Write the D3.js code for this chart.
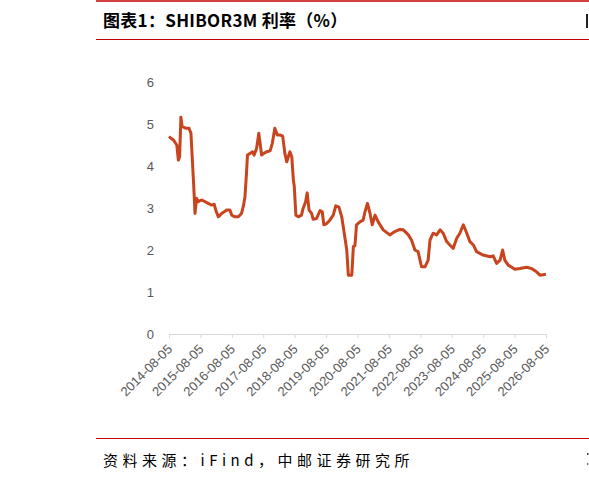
<!DOCTYPE html>
<html>
<head>
<meta charset="utf-8">
<script src="https://cdn.jsdelivr.net/npm/d3@7"></script>
<style>
  body { margin: 0; background: #fff; }
  svg { display: block; }
</style>
</head>
<body>
<div class="content"></div>
<script>

// dates as decimal years
var years = [2014.59, 2014.73, 2014.84, 2014.89, 2014.93, 2014.97, 2015.01, 2015.12, 2015.23, 2015.29,
    2015.33, 2015.38, 2015.42, 2015.47, 2015.52, 2015.63, 2015.74, 2015.84, 2015.95, 2016.03,
    2016.08, 2016.16, 2016.27, 2016.43, 2016.53, 2016.59, 2016.69, 2016.80, 2016.90, 2016.96,
    2017.01, 2017.06, 2017.09, 2017.17, 2017.25, 2017.30, 2017.38, 2017.45, 2017.54, 2017.61,
    2017.70, 2017.81, 2017.88, 2017.96, 2018.04, 2018.12, 2018.21, 2018.28, 2018.34, 2018.39,
    2018.44, 2018.50, 2018.55, 2018.58, 2018.63, 2018.71, 2018.81, 2018.86, 2018.94, 2018.99,
    2019.05, 2019.13, 2019.18, 2019.29, 2019.40, 2019.47, 2019.52, 2019.61, 2019.71, 2019.82,
    2019.90, 2020.00, 2020.09, 2020.17, 2020.25, 2020.30, 2020.41, 2020.46, 2020.51, 2020.56,
    2020.67, 2020.77, 2020.83, 2020.91, 2020.99, 2021.06, 2021.15, 2021.25, 2021.41, 2021.62,
    2021.78, 2021.94, 2022.05, 2022.21, 2022.31, 2022.42, 2022.52, 2022.63, 2022.74, 2022.84,
    2022.90, 2023.00, 2023.11, 2023.22, 2023.32, 2023.43, 2023.53, 2023.64, 2023.75, 2023.85,
    2023.96, 2024.07, 2024.17, 2024.28, 2024.38, 2024.59, 2024.81, 2024.91, 2025.02, 2025.13,
    2025.21, 2025.28, 2025.39, 2025.50, 2025.60, 2025.76, 2025.97, 2026.13, 2026.29, 2026.40,
    2026.59];

var rates = [4.70, 4.62, 4.50, 4.14, 4.22, 5.16, 4.94, 4.90, 4.90, 4.78,
    4.22, 3.51, 2.87, 3.23, 3.15, 3.19, 3.15, 3.11, 3.07, 3.09,
    2.95, 2.79, 2.87, 2.95, 2.95, 2.83, 2.79, 2.79, 2.87, 3.05,
    3.27, 3.85, 4.26, 4.30, 4.34, 4.26, 4.42, 4.78, 4.26, 4.30,
    4.34, 4.36, 4.54, 4.90, 4.74, 4.74, 4.71, 4.30, 4.10, 4.22,
    4.34, 4.22, 3.67, 3.51, 2.83, 2.79, 2.83, 2.99, 3.15, 3.36,
    2.95, 2.87, 2.73, 2.75, 2.94, 2.91, 2.60, 2.63, 2.71, 2.83,
    3.05, 3.02, 2.79, 2.40, 2.00, 1.40, 1.40, 2.08, 2.10, 2.60,
    2.67, 2.71, 2.91, 3.11, 2.87, 2.60, 2.83, 2.67, 2.48, 2.36,
    2.44, 2.49, 2.48, 2.36, 2.24, 2.00, 1.96, 1.60, 1.60, 1.76,
    2.24, 2.40, 2.36, 2.48, 2.40, 2.20, 2.12, 2.04, 2.28, 2.40,
    2.60, 2.40, 2.20, 2.12, 1.96, 1.88, 1.84, 1.86, 1.68, 1.76,
    2.00, 1.76, 1.64, 1.59, 1.54, 1.56, 1.59, 1.56, 1.48, 1.40,
    1.42];

var xLabels = ['2014-08-05', '2015-08-05', '2016-08-05', '2017-08-05', '2018-08-05', '2019-08-05',
    '2020-08-05', '2021-08-05', '2022-08-05', '2023-08-05', '2024-08-05', '2025-08-05', '2026-08-05'];
var yTicks = [0, 1, 2, 3, 4, 5, 6];

var title = '图表1：SHIBOR3M 利率（%）';
var source = '资料来源：iFind，中邮证券研究所';

var width = 589, height = 479;
var red = '#c00000';

// label date string -> decimal year
function toYear(s) {
    var p = s.split('-'), y = +p[0];
    var d = new Date(y, +p[1] - 1, +p[2]);
    var start = new Date(y, 0, 1), end = new Date(y + 1, 0, 1);
    return y + (d - start) / (end - start);
}

var data = years.map(function(y, i) { return { year: y, rate: rates[i] } });

var svg = d3.select('div.content').append('svg')
    .attr('width', width)
    .attr('height', height)

var x = d3.scaleLinear()
    .domain([toYear(xLabels[0]), toYear(xLabels[xLabels.length - 1])])
    .range([169, 546])

var y = d3.scaleLinear()
    .domain([0, 6])
    .range([334, 82])

// header / footer rules
svg.append('line').attr('x1', 96).attr('x2', width).attr('y1', 1).attr('y2', 1)
    .style('stroke', red).style('stroke-width', 1.5)
svg.append('line').attr('x1', 96).attr('x2', width).attr('y1', 39.5).attr('y2', 39.5)
    .style('stroke', red).style('stroke-width', 1.2)
svg.append('line').attr('x1', 96).attr('x2', width).attr('y1', 438.5).attr('y2', 438.5)
    .style('stroke', red).style('stroke-width', 1.2)

svg.append('text')
    .text(title)
    .attr('x', 103)
    .attr('y', 27)
    .style('font-family', '"Noto Sans CJK SC"')
    .style('font-weight', 'bold')
    .style('font-size', '17px')
    .style('letter-spacing', '0.3px')
    .style('fill', '#000')

// clipped edge of the next column's heading / source
svg.append('rect').attr('x', 586).attr('y', 14).attr('width', 2).attr('height', 14).style('fill', '#222')
svg.append('rect').attr('x', 587).attr('y', 453).attr('width', 1.5).attr('height', 2).style('fill', '#444')
svg.append('rect').attr('x', 587).attr('y', 463).attr('width', 1.5).attr('height', 2).style('fill', '#777')

svg.append('text')
    .text(source)
    .attr('x', 103)
    .attr('y', 466)
    .style('font-family', '"Noto Sans CJK SC"')
    .style('font-size', '15px')
    .style('letter-spacing', '4.5px')
    .style('fill', '#000')

// y labels (no gridlines)
svg.append('g')
    .selectAll('text')
    .data(yTicks)
    .enter()
    .append('text')
        .text(function(d) { return d })
        .attr('x', 154)
        .attr('y', function(d) { return y(d) })
        .attr('dy', '0.35em')
        .style('text-anchor', 'end')
        .style('font-family', '"Liberation Sans", Arial, sans-serif')
        .style('font-size', '13px')
        .style('fill', '#595959')

// x axis
var xAxis = svg.append('g')
    .attr('transform', 'translate(0,' + y(0) + ')')
    .call(d3.axisBottom(x)
        .tickValues(xLabels.map(toYear))
        .tickSize(4)
        .tickSizeOuter(0)
        .tickFormat(''))

xAxis.select('.domain').style('stroke', '#d9d9d9')
xAxis.selectAll('.tick line').style('stroke', '#d9d9d9')

svg.append('g')
    .selectAll('text')
    .data(xLabels)
    .enter()
    .append('text')
        .text(function(d) { return d })
        .attr('transform', function(d) { return 'translate(' + (x(toYear(d)) + 4) + ',' + 350 + ') rotate(-45)' })
        .style('text-anchor', 'end')
        .style('font-family', '"Liberation Sans", Arial, sans-serif')
        .style('font-size', '13px')
        .style('fill', '#595959')

var line = d3.line()
    .x(function(d) { return x(d.year) })
    .y(function(d) { return y(d.rate) })

svg.append('path')
    .datum(data)
    .attr('d', line)
    .style('fill', 'none')
    .style('stroke', '#c8441f')
    .style('stroke-width', 3)
    .style('stroke-linejoin', 'round')

</script>
</body>
</html>
